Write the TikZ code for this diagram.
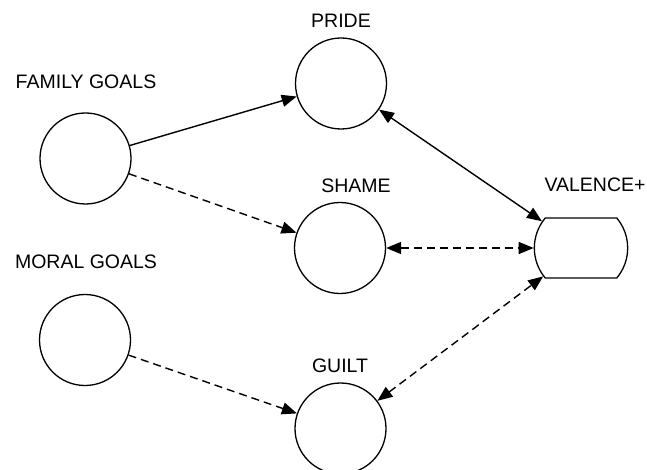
\documentclass[tikz,border=0pt]{standalone}
\usepackage{fontspec}
\setmainfont{Liberation Sans}
\usetikzlibrary{arrows.meta,shapes.misc}
\begin{document}
\begin{tikzpicture}[x=1pt,y=-1pt,
  state/.style={circle,draw,line width=1.3pt,minimum size=91pt,inner sep=0pt},
  valbox/.style={rounded rectangle,rounded rectangle arc length=80,draw,line width=1.3pt,
    minimum width=92pt,minimum height=60pt,inner sep=0pt},
  lbl/.style={font=\fontsize{19.5}{23}\selectfont,inner sep=0pt},
  tip/.style={Triangle[length=15pt,width=12pt]},
  link/.style={line width=1.4pt,-{Triangle[length=15pt,width=12pt]}},
  bilink/.style={line width=1.4pt,{Triangle[length=15pt,width=12pt]}-{Triangle[length=15pt,width=12pt]}},
  dashline/.style={dash pattern=on 8pt off 5pt}]
\useasboundingbox (0,0) rectangle (647,470);
\clip (0,0) rectangle (647,470);

% goal and emotion nodes
\node[state] (family) at (85.5,158.5) {};
\node[state] (moral)  at (85,340) {};
\node[state] (pride)  at (341,83.5) {};
\node[state] (shame)  at (340,248) {};
\node[state] (guilt)  at (340.5,428.5) {};
\node[valbox] (valence) at (581,248) {};

% labels
\node[lbl] (familyL)  at (86,81.5)  {FAMILY GOALS};
\node[lbl] (moralL)   at (86,262)   {MORAL GOALS};
\node[lbl] (prideL)   at (341,21)   {PRIDE};
\node[lbl] (shameL)   at (356,185.5){SHAME};
\node[lbl] (guiltL)   at (340,366)  {GUILT};
\node[lbl] (valenceL) at (595,185)  {VALENCE+};

% connectors
\draw[link] (family) -- (pride);
\draw[link,dashline] (family) -- (shame);
\draw[link,dashline] (moral) -- (guilt);
\draw[bilink] (pride) -- (valence);
\draw[bilink,dashline] (shame) -- (valence);
\draw[bilink,dashline] (guilt) -- (valence);
\end{tikzpicture}
\end{document}
